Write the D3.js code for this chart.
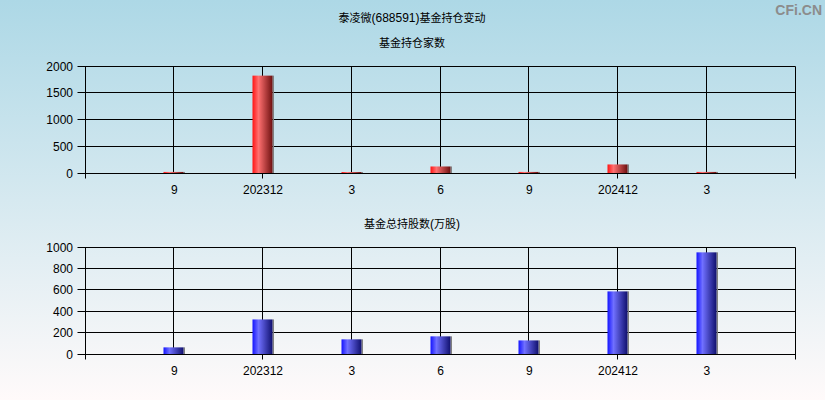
<!DOCTYPE html>
<html><head><meta charset="utf-8">
<script src="https://cdn.jsdelivr.net/npm/d3@7"></script>
<style>
html,body{margin:0;padding:0;}
svg{display:block;}
text{font-family:"Liberation Sans",Arial,"Noto Sans CJK SC",sans-serif;font-size:12px;fill:#000;}
</style></head>
<body>
<script>
const mainTitle = "泰凌微(688591)基金持仓变动";
const topTitle = "基金持仓家数";
const bottomTitle = "基金总持股数(万股)";
const categories = ["9","202312","3","6","9","202412","3"];
const yearTicks = ["202312","202412"];
const fundCount = [20, 1820, 18, 122, 20, 160, 20];
const fundShares = [62, 323, 137, 165, 127, 585, 950];
const topTicks = [0, 500, 1000, 1500, 2000];
const bottomTicks = [0, 200, 400, 600, 800, 1000];

const W = 825, H = 400;
const svg = d3.select("body").append("svg").attr("width", W).attr("height", H);
const defs = svg.append("defs");
const bg = defs.append("linearGradient").attr("id","bg").attr("x1",0).attr("y1",0).attr("x2",0).attr("y2",1);
bg.append("stop").attr("offset","0%").attr("stop-color","#add8e6");
bg.append("stop").attr("offset","100%").attr("stop-color","#fffafa");
svg.append("rect").attr("width",W).attr("height",H).attr("fill","url(#bg)");

function barGrad(id, c0, c1, c2){
  const g = defs.append("linearGradient").attr("id",id).attr("x1",0).attr("y1",0).attr("x2",1).attr("y2",0);
  g.append("stop").attr("offset","0%").attr("stop-color",c0);
  g.append("stop").attr("offset","30%").attr("stop-color",c1);
  g.append("stop").attr("offset","100%").attr("stop-color",c2);
}
barGrad("gRed","#ff1414","#ff7070","#6e1010");
barGrad("gBlue","#1414ff","#7070ff","#10106e");

// Title text: CJK glyphs slightly smaller than Latin digits, as in the reference
function mixedText(sel, str){
  const parts = str.match(/[\u4e00-\u9fff]+|[^\u4e00-\u9fff]+/g);
  sel.selectAll("tspan").data(parts).join("tspan")
    .style("font-size", d => /[\u4e00-\u9fff]/.test(d) ? "11px" : "12px")
    .text(d => d);
}

mixedText(svg.append("text").attr("x",412).attr("y",22).attr("text-anchor","middle"), mainTitle);
svg.append("text").attr("x",W-3).attr("y",15).attr("text-anchor","end")
  .style("font-size","14px").style("font-weight","bold").style("fill","#8c8c8c").text("CFi.CN");

const px = v => Math.floor(v) + 0.5;
const x = d3.scaleLinear().domain([0, categories.length + 1]).range([85, 795]);

function panel(opts){
  const {title, titleY, top, bottom, max, ticks, values, grad} = opts;
  const y = d3.scaleLinear().domain([0, max]).range([bottom, top]);
  const g = svg.append("g");
  mixedText(g.append("text").attr("x",412).attr("y",titleY).attr("text-anchor","middle"), title);
  // horizontal grid
  g.selectAll(".hg").data(ticks).join("line")
    .attr("x1", px(x(0)) - 8).attr("x2", px(x(categories.length+1)))
    .attr("y1", d => px(y(d))).attr("y2", d => px(y(d)))
    .attr("stroke","#000").attr("stroke-width",1);
  // vertical grid
  const vpos = d3.range(0, categories.length + 2);
  g.selectAll(".vg").data(vpos).join("line")
    .attr("x1", d => px(x(d))).attr("x2", d => px(x(d)))
    .attr("y1", px(y(max)))
    .attr("y2", d => (d === 0 || d === categories.length+1 || yearTicks.includes(categories[d-1])) ? px(y(0)) + 5 : px(y(0)))
    .attr("stroke","#000").attr("stroke-width",1);
  // y labels
  g.selectAll(".yl").data(ticks).join("text")
    .attr("x", 73).attr("y", d => y(d) + 4.5).attr("text-anchor","end").text(d => d);
  // x labels
  g.selectAll(".xl").data(categories).join("text")
    .attr("x", (d,i) => x(i+1) + 0.5).attr("y", px(y(0)) + 20).attr("text-anchor","middle").text(d => d);
  // bars
  const bw = 20;
  g.selectAll(".sh").data(values).join("rect")
    .attr("x", (d,i) => px(x(i+1)) - bw/2 + bw)
    .attr("width", 1.5)
    .attr("y", d => y(d)).attr("height", d => px(y(0)) - y(d))
    .attr("fill","#808080");
  g.selectAll(".bar").data(values).join("rect")
    .attr("x", (d,i) => px(x(i+1)) - bw/2)
    .attr("width", bw)
    .attr("y", d => y(d)).attr("height", d => px(y(0)) - y(d))
    .attr("fill", `url(#${grad})`);
  // axis line on top
  g.append("line").attr("x1", px(x(0))).attr("x2", px(x(categories.length+1)))
    .attr("y1", px(y(0))).attr("y2", px(y(0))).attr("stroke","#000");
}

panel({title: topTitle, titleY: 47, top: 66, bottom: 173, max: 2000, ticks: topTicks, values: fundCount, grad: "gRed"});
panel({title: bottomTitle, titleY: 228, top: 247, bottom: 354, max: 1000, ticks: bottomTicks, values: fundShares, grad: "gBlue"});
</script>
</body></html>
